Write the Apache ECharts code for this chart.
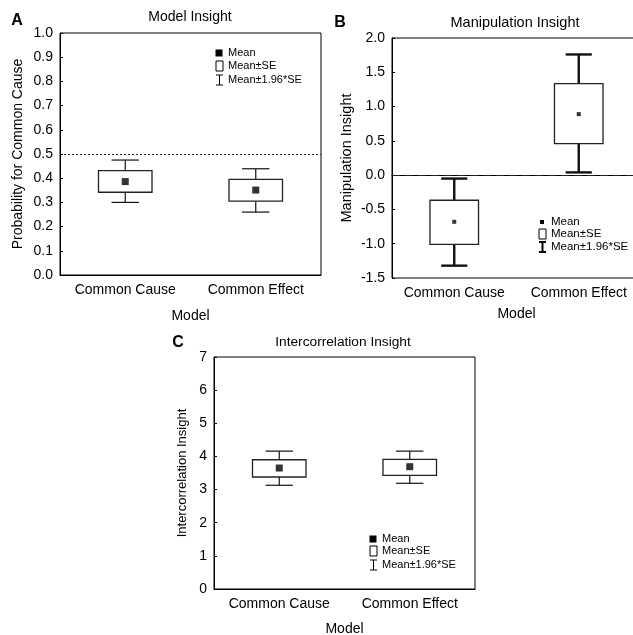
<!DOCTYPE html>
<html><head><meta charset="utf-8">
<script src="https://cdn.jsdelivr.net/npm/echarts@6/dist/echarts.min.js"></script>
<style>html,body{margin:0;padding:0;background:#fff}#c{width:633px;height:635px}</style>
</head><body><div id="c"></div>
<script>
const categories = ['Common Cause', 'Common Effect'];
// Panel A: Model Insight
const meanA   = [0.386, 0.351];
const seLowA  = [0.342, 0.305];
const seHighA = [0.431, 0.395];
const ciLowA  = [0.300, 0.260];
const ciHighA = [0.475, 0.439];
const refA = 0.5;
// Panel B: Manipulation Insight
const meanB   = [-0.68, 0.89];
const seLowB  = [-1.01, 0.46];
const seHighB = [-0.366, 1.335];
const ciLowB  = [-1.32, 0.04];
const ciHighB = [-0.05, 1.76];
const refB = 0;
// Panel C: Intercorrelation Insight
const meanC   = [3.65, 3.69];
const seLowC  = [3.38, 3.43];
const seHighC = [3.90, 3.91];
const ciLowC  = [3.13, 3.19];
const ciHighC = [4.16, 4.16];
const legendLabels = ['Mean', 'Mean±SE', 'Mean±1.96*SE'];

const FONT = 'Liberation Sans, Arial, sans-serif';
const chart = echarts.init(document.getElementById('c'), null, {renderer: 'canvas'});

function boxData(ciL, seL, m, seH, ciH) {
  return categories.map((c, i) => [i, ciL[i], seL[i], m[i], seH[i], ciH[i]]);
}
function makeRender(boxFrac, capFrac, boxLW, whiskLW) {
  return function (params, api) {
    const i = api.value(0);
    const bw = api.size([1, 0])[0];
    const pCiL = api.coord([i, api.value(1)]);
    const pSeL = api.coord([i, api.value(2)]);
    const pSeH = api.coord([i, api.value(4)]);
    const pCiH = api.coord([i, api.value(5)]);
    const x = pSeL[0];
    const hb = bw * boxFrac / 2, hc = bw * capFrac / 2;
    const ls = {stroke: '#111', lineWidth: whiskLW, fill: null};
    return {type: 'group', children: [
      {type: 'line', shape: {x1: x, y1: pSeH[1], x2: x, y2: pCiH[1]}, style: ls},
      {type: 'line', shape: {x1: x - hc, y1: pCiH[1], x2: x + hc, y2: pCiH[1]}, style: ls},
      {type: 'line', shape: {x1: x, y1: pSeL[1], x2: x, y2: pCiL[1]}, style: ls},
      {type: 'line', shape: {x1: x - hc, y1: pCiL[1], x2: x + hc, y2: pCiL[1]}, style: ls},
      {type: 'rect', shape: {x: x - hb, y: pSeH[1], width: 2 * hb, height: pSeL[1] - pSeH[1]},
       style: {fill: '#fff', stroke: '#222', lineWidth: boxLW}}
    ]};
  };
}
function xAxisCfg(gi, gap) {
  return {
    gridIndex: gi, type: 'category', data: categories, boundaryGap: true,
    name: 'Model', nameLocation: 'middle', nameGap: gap,
    nameTextStyle: {fontFamily: FONT, fontSize: 14, color: '#000'},
    axisLine: {lineStyle: {color: '#000', width: 1}},
    axisTick: {alignWithLabel: true, inside: true, length: 4, lineStyle: {color: '#000'}},
    axisLabel: {fontFamily: FONT, fontSize: 14, color: '#000', margin: 8, interval: 0, hideOverlap: false},
    splitLine: {show: false}
  };
}
function yAxisCfg(gi, min, max, interval, name, gap, dec, nameSize) {
  return {
    gridIndex: gi, type: 'value', min: min, max: max, interval: interval,
    name: name, nameLocation: 'middle', nameGap: gap,
    nameTextStyle: {fontFamily: FONT, fontSize: nameSize, color: '#000'},
    axisLine: {show: true, lineStyle: {color: '#000', width: 1}},
    axisTick: {show: true, inside: true, length: 3, lineStyle: {color: '#000'}},
    axisLabel: {fontFamily: FONT, fontSize: 14, color: '#000', margin: 7,
      formatter: v => v.toFixed(dec)},
    splitLine: {show: false}
  };
}
function legend(x, ys, fsz, sq, thick) {
  const t = (y, s) => ({type: 'text', left: x + 12, top: y - 6,
    style: {text: s, font: fsz + 'px ' + FONT, fill: '#000'}});
  const lw = thick ? 2 : 1;
  return [
    {type: 'rect', shape: {x: x + 3 - sq / 2, y: ys[0] - sq / 2, width: sq, height: sq}, style: {fill: '#000'}},
    t(ys[0], legendLabels[0]),
    {type: 'rect', shape: {x: x, y: ys[1] - 5, width: 7, height: 10}, style: {fill: '#fff', stroke: '#000', lineWidth: 1}},
    t(ys[1], legendLabels[1]),
    {type: 'line', shape: {x1: x + 3.5, y1: ys[2] - 5, x2: x + 3.5, y2: ys[2] + 5}, style: {stroke: '#000', lineWidth: lw}},
    {type: 'line', shape: {x1: x, y1: ys[2] - 5, x2: x + 7, y2: ys[2] - 5}, style: {stroke: '#000', lineWidth: lw}},
    {type: 'line', shape: {x1: x, y1: ys[2] + 5, x2: x + 7, y2: ys[2] + 5}, style: {stroke: '#000', lineWidth: lw}},
    t(ys[2], legendLabels[2])
  ];
}
function txt(cx, cy, s, size, bold) {
  return {type: 'text', x: cx, y: cy,
    style: {text: s, font: (bold ? 'bold ' : '') + size + 'px ' + FONT, fill: '#000',
      textAlign: 'center', textVerticalAlign: 'middle'}};
}

const gridBase = {show: true, borderColor: '#000', borderWidth: 1, backgroundColor: 'transparent',
  containLabel: false, outerBoundsMode: 'none'};
const option = {
  animation: false,
  backgroundColor: '#fff',
  grid: [
    Object.assign({left: 60, top: 33, width: 261, height: 242}, gridBase),
    Object.assign({left: 392, top: 38, width: 249, height: 240}, gridBase),
    Object.assign({left: 214, top: 357, width: 261, height: 232}, gridBase)
  ],
  xAxis: [xAxisCfg(0, 34), xAxisCfg(1, 29), xAxisCfg(2, 33)],
  yAxis: [
    yAxisCfg(0, 0, 1, 0.1, 'Probability for Common Cause', 35, 1, 14),
    yAxisCfg(1, -1.5, 2.0, 0.5, 'Manipulation Insight', 38, 1, 14.5),
    yAxisCfg(2, 0, 7, 1, 'Intercorrelation Insight', 25, 0, 13)
  ],
  series: [
    {type: 'custom', xAxisIndex: 0, yAxisIndex: 0, renderItem: makeRender(0.41, 0.21, 1.3, 1.2),
     data: boxData(ciLowA, seLowA, meanA, seHighA, ciHighA), z: 3,
     markLine: {silent: true, symbol: 'none', label: {show: false},
       lineStyle: {type: [2, 2], color: '#222', width: 1}, data: [{yAxis: refA}]}},
    {type: 'scatter', xAxisIndex: 0, yAxisIndex: 0, symbol: 'rect', symbolSize: 7,
     itemStyle: {color: '#000'}, data: meanA.map((v, i) => [i, v]), z: 5},
    {type: 'custom', xAxisIndex: 1, yAxisIndex: 1, renderItem: makeRender(0.39, 0.21, 1.3, 2.4),
     data: boxData(ciLowB, seLowB, meanB, seHighB, ciHighB), z: 3,
     markLine: {silent: true, symbol: 'none', label: {show: false},
       lineStyle: {type: [8, 5], color: '#222', width: 1}, data: [{yAxis: refB}]}},
    {type: 'scatter', xAxisIndex: 1, yAxisIndex: 1, symbol: 'rect', symbolSize: 4,
     itemStyle: {color: '#000'}, data: meanB.map((v, i) => [i, v]), z: 5},
    {type: 'custom', xAxisIndex: 2, yAxisIndex: 2, renderItem: makeRender(0.41, 0.21, 1.3, 1.2),
     data: boxData(ciLowC, seLowC, meanC, seHighC, ciHighC), z: 3},
    {type: 'scatter', xAxisIndex: 2, yAxisIndex: 2, symbol: 'rect', symbolSize: 7,
     itemStyle: {color: '#000'}, data: meanC.map((v, i) => [i, v]), z: 5}
  ],
  graphic: [
    txt(17, 21, 'A', 16, true), txt(190, 17, 'Model Insight', 14, false),
    txt(340, 23, 'B', 16, true), txt(515, 23, 'Manipulation Insight', 14.5, false),
    txt(178, 343, 'C', 16, true), txt(343, 342, 'Intercorrelation Insight', 13.7, false)
  ].concat(legend(216, [53, 66, 80], 11, 7, false))
   .concat(legend(539, [222, 234, 247], 11.5, 4, true))
   .concat(legend(370, [539, 551, 565], 11, 7, false))
};
chart.setOption(option);
</script></body></html>
